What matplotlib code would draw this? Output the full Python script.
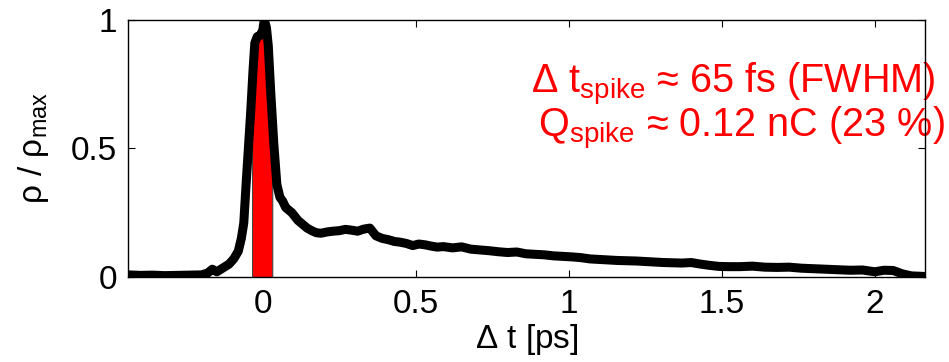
import numpy as np
import matplotlib
matplotlib.use("Agg")
import matplotlib.pyplot as plt

plt.rcParams['font.family'] = ['Liberation Sans', 'DejaVu Sans']
plt.rcParams['mathtext.fontset'] = 'custom'
plt.rcParams['mathtext.rm'] = 'Liberation Sans'
plt.rcParams['mathtext.default'] = 'regular'

# current profile
t_ps = [-0.44, -0.40, -0.36, -0.32, -0.28, -0.24, -0.20, -0.18, -0.165, -0.15,
        -0.13, -0.11, -0.095, -0.08, -0.07, -0.062, -0.055, -0.047, -0.039, -0.032,
        -0.026, -0.018, -0.008, 0.0, 0.005, 0.012, 0.018, 0.026, 0.036, 0.046,
        0.056, 0.065, 0.075, 0.085, 0.095, 0.105, 0.115, 0.13, 0.145, 0.16,
        0.175, 0.19, 0.21, 0.23, 0.25, 0.27, 0.29, 0.31, 0.33, 0.35,
        0.36, 0.37, 0.39, 0.41, 0.43, 0.45, 0.47, 0.49, 0.51, 0.53,
        0.55, 0.57, 0.59, 0.62, 0.65, 0.68, 0.71, 0.74, 0.77, 0.80,
        0.83, 0.86, 0.89, 0.92, 0.95, 0.98, 1.01, 1.04, 1.07, 1.10,
        1.13, 1.16, 1.19, 1.22, 1.25, 1.28, 1.31, 1.34, 1.37, 1.40,
        1.43, 1.46, 1.49, 1.52, 1.56, 1.60, 1.64, 1.68, 1.72, 1.76,
        1.80, 1.84, 1.88, 1.92, 1.96, 2.00, 2.03, 2.06, 2.09, 2.12, 2.16]
rho_norm = [0.008, 0.006, 0.007, 0.005, 0.006, 0.007, 0.008, 0.015, 0.03, 0.02,
            0.035, 0.05, 0.07, 0.10, 0.15, 0.21, 0.35, 0.50, 0.65, 0.80,
            0.91, 0.935, 0.94, 0.96, 1.0, 0.97, 0.90, 0.72, 0.52, 0.36,
            0.31, 0.295, 0.27, 0.26, 0.25, 0.235, 0.22, 0.205, 0.19, 0.18,
            0.172, 0.17, 0.175, 0.178, 0.18, 0.185, 0.182, 0.178, 0.186, 0.19,
            0.175, 0.16, 0.15, 0.145, 0.138, 0.135, 0.13, 0.122, 0.128, 0.125,
            0.12, 0.116, 0.118, 0.113, 0.117, 0.108, 0.105, 0.102, 0.098, 0.095,
            0.097, 0.09, 0.088, 0.086, 0.082, 0.08, 0.078, 0.075, 0.07, 0.068,
            0.066, 0.064, 0.063, 0.062, 0.06, 0.058, 0.056, 0.055, 0.054, 0.056,
            0.05, 0.045, 0.041, 0.04, 0.04, 0.042, 0.038, 0.037, 0.038, 0.034,
            0.032, 0.03, 0.028, 0.026, 0.027, 0.02, 0.026, 0.025, 0.012, 0.004, 0.002]

spike_window = [-0.035, 0.031]  # ps, FWHM region
x_ticks = [0, 0.5, 1, 1.5, 2]
x_ticklabels = ['0', '0.5', '1', '1.5', '2']
y_ticks = [0, 0.5, 1]
y_ticklabels = ['0', '0.5', '1']

t = np.array(t_ps)
rho = np.array(rho_norm)

fig = plt.figure(figsize=(9.49, 3.62), dpi=100)
ax = fig.add_axes([0.135, 0.235, 0.84, 0.71])

# red spike area under the curve
lo, hi = spike_window
inside = (t > lo) & (t < hi)
xs = np.concatenate([[lo], t[inside], [hi]])
ys = np.concatenate([[np.interp(lo, t, rho)], rho[inside], [np.interp(hi, t, rho)]])
ax.fill_between(xs, 0, ys, facecolor='red', edgecolor='#444444', linewidth=0.8, zorder=2)

ax.plot(t, rho, color='black', linewidth=6.5, solid_joinstyle='round',
        solid_capstyle='round', zorder=3)

ax.set_xlim(-0.44, 2.165)
ax.set_ylim(0, 1)
ax.set_xticks(x_ticks)
ax.set_xticklabels(x_ticklabels)
ax.set_yticks(y_ticks)
ax.set_yticklabels(y_ticklabels)
ax.tick_params(direction='in', length=5, width=0.8, labelsize=24, pad=9,
               top=True, right=True)
ax.tick_params(axis='y', pad=8)
for s in ax.spines.values():
    s.set_linewidth(1.0)
    s.set_zorder(4)

ax.set_xlabel(r'$\Delta$ t [ps]', fontsize=24, labelpad=1)
ax.set_ylabel(r'$\rho$ / $\rho_{max}$', fontsize=24, labelpad=14)

ax.text(1.0125, 0.716, r'$\Delta$ t$_{spike}$ ≈ 65 fs (FWHM)', color='red',
        fontsize=28.5, ha='right', va='baseline', transform=ax.transAxes,
        clip_on=False, zorder=1)
ax.text(1.025, 0.541, r'Q$_{spike}$ ≈ 0.12 nC (23 %)', color='red',
        fontsize=28.5, ha='right', va='baseline', transform=ax.transAxes,
        clip_on=False, zorder=1)

fig.savefig('out.png', dpi=100)
